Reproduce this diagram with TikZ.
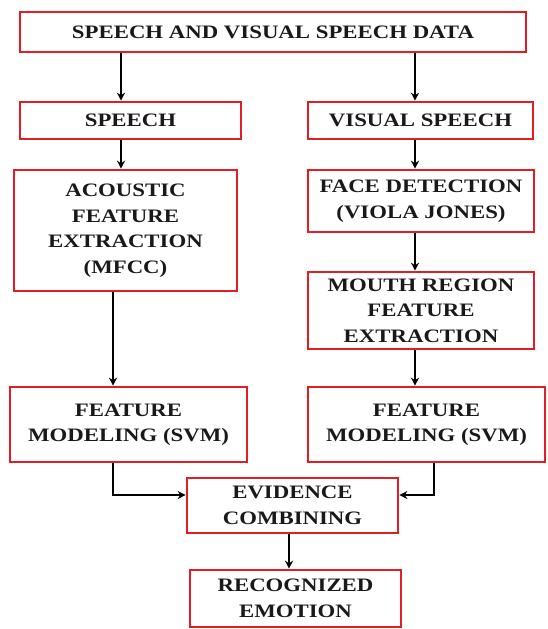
\documentclass[tikz,border=0pt]{standalone}
\usepackage{fontspec}
\setmainfont{Liberation Serif}[FakeStretch=1.2]
\usetikzlibrary{arrows.meta}
\definecolor{boxred}{RGB}{225,30,35}
\begin{document}
\begin{tikzpicture}[x=1pt,y=1pt,
  box/.style={draw=boxred, line width=2.6pt, fill=white, align=center, inner sep=0pt,
    font=\fontsize{19}{25.5}\selectfont\bfseries, text=black!90},
  arr/.style={draw=black, line width=2pt, -{Stealth[length=8pt,width=8pt]}},
  ln/.style={draw=black, line width=2pt}]
\useasboundingbox (0,0) rectangle (548,-629);
\node[box, minimum width=506, minimum height=40] (top) at (273,-32) {SPEECH AND VISUAL SPEECH DATA};
\node[box, minimum width=221, minimum height=37] (speech) at (130.5,-120.5) {SPEECH};
\node[box, minimum width=225, minimum height=37] (visual) at (420.5,-120.5) {VISUAL SPEECH};
\node[box, minimum width=223, minimum height=121] (acoustic) at (125.5,-230.5) {ACOUSTIC\\FEATURE\\EXTRACTION\\(MFCC)};
\node[box, minimum width=226, minimum height=62] (face) at (421,-201) {FACE DETECTION\\(VIOLA JONES)};
\node[box, minimum width=226, minimum height=77] (mouth) at (421,-310.5) {MOUTH REGION\\FEATURE\\EXTRACTION};
\node[box, minimum width=237, minimum height=75] (fmL) at (128.5,-424.5) {FEATURE\\MODELING (SVM)};
\node[box, minimum width=237, minimum height=75] (fmR) at (426.5,-424.5) {FEATURE\\MODELING (SVM)};
\node[box, minimum width=211, minimum height=55] (evid) at (292.5,-505.5) {EVIDENCE\\COMBINING};
\node[box, minimum width=211, minimum height=57] (recog) at (295.5,-598.5) {RECOGNIZED\\EMOTION};
\coordinate (xa) at (121,0);
\coordinate (xb) at (415,0);
\coordinate (xc) at (113,0);
\coordinate (xd) at (434,0);
\coordinate (xe) at (289,0);
\coordinate (yj) at (0,-495);
\draw[arr] (top.south -| xa) -- (speech.north -| xa);
\draw[arr] (top.south -| xb) -- (visual.north -| xb);
\draw[arr] (speech.south -| xa) -- (acoustic.north -| xa);
\draw[arr] (visual.south -| xb) -- (face.north -| xb);
\draw[arr] (face.south -| xb) -- (mouth.north -| xb);
\draw[arr] (acoustic.south -| xc) -- (fmL.north -| xc);
\draw[arr] (mouth.south -| xb) -- (fmR.north -| xb);
\draw[arr] (fmL.south -| xc) |- (evid.west |- yj);
\draw[arr] (fmR.south -| xd) |- (evid.east |- yj);
\draw[arr] (evid.south -| xe) -- (recog.north -| xe);
\end{tikzpicture}
\end{document}
